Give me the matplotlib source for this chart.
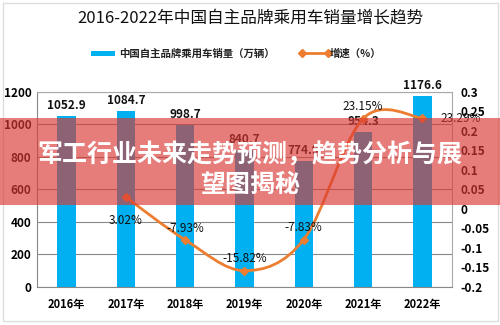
import numpy as np
import matplotlib
matplotlib.use('Agg')
import matplotlib.pyplot as plt
from matplotlib.path import Path
from matplotlib.patches import PathPatch, Rectangle

plt.rcParams['font.family'] = ['Noto Sans CJK SC', 'DejaVu Sans']

years = ['2016年', '2017年', '2018年', '2019年', '2020年', '2021年', '2022年']
sales = [1052.9, 1084.7, 998.7, 840.7, 774.9, 954.3, 1176.6]
growth = [None, 0.0302, -0.0793, -0.1582, -0.0783, 0.2315, 0.2329]
growth_labels = ['', '3.02%', '-7.93%', '-15.82%', '-7.83%', '23.15%', '23.29%']

bar_color = '#00B0F0'
line_color = '#ED7D31'
text_dark = '#111111'

fig = plt.figure(figsize=(5, 3.25), dpi=100)
ax = fig.add_axes([0.074, 0.117, 0.83, 0.6])
ax2 = ax.twinx()

x = np.arange(len(years))
ax.bar(x, sales, width=0.31, color=bar_color, zorder=2)
for xi, v in zip(x, sales):
    ax.text(xi, v + 25, '%.1f' % v, ha='center', va='bottom',
            fontsize=8.5, fontweight='bold', color=text_dark)

ax.set_xlim(-0.5, len(years) - 0.5)
ax.set_ylim(0, 1200)
ax.set_yticks(range(0, 1201, 200))
ax.set_xticks(x)
ax.set_xticklabels(years, fontsize=8, fontweight='bold')
ax.tick_params(axis='y', labelsize=8.5, length=0, pad=4)
ax.tick_params(axis='x', length=0, pad=8)
for lab in ax.get_yticklabels():
    lab.set_fontweight('bold')
ax.grid(axis='y', color='#888888', linewidth=0.8, zorder=0)
ax.set_axisbelow(True)
for s in ['top', 'right']:
    ax.spines[s].set_color('#aaaaaa')
    ax.spines[s].set_linewidth(0.8)
ax.spines['left'].set_color('#888888')
ax.spines['bottom'].set_color('#888888')

# smoothed growth line (Catmull-Rom style bezier through the points)
gx = np.array([xi for xi, g in zip(x, growth) if g is not None], dtype=float)
gy = np.array([g for g in growth if g is not None], dtype=float)
verts = [(gx[0], gy[0])]
codes = [Path.MOVETO]
n = len(gx)
for i in range(n - 1):
    p0 = (gx[i - 1], gy[i - 1]) if i > 0 else (gx[i], gy[i])
    p1 = (gx[i], gy[i])
    p2 = (gx[i + 1], gy[i + 1])
    p3 = (gx[i + 2], gy[i + 2]) if i + 2 < n else p2
    c1 = (p1[0] + (p2[0] - p0[0]) / 6, p1[1] + (p2[1] - p0[1]) / 6)
    c2 = (p2[0] - (p3[0] - p1[0]) / 6, p2[1] - (p3[1] - p1[1]) / 6)
    verts += [c1, c2, p2]
    codes += [Path.CURVE4] * 3
ax2.add_patch(PathPatch(Path(verts, codes), facecolor='none',
                        edgecolor=line_color, linewidth=2, zorder=3))
ax2.plot(gx, gy, linestyle='', marker='D', markersize=4, color=line_color, zorder=4)

offsets = {1: (0, -0.06, 'center'), 2: (0, 0.03, 'center'), 3: (0, 0.03, 'center'),
           4: (0, 0.03, 'center'), 5: (0, 0.03, 'center'), 6: (0.65, -0.002, 'center')}
for i, lab in enumerate(growth_labels):
    if not lab:
        continue
    dx, dy, ha = offsets[i]
    ax2.text(x[i] + dx, growth[i] + dy, lab, ha=ha, va='center',
             fontsize=8.5, color=text_dark)

ax2.set_ylim(-0.2, 0.3)
ax2.set_yticks([-0.2, -0.15, -0.1, -0.05, 0, 0.05, 0.1, 0.15, 0.2, 0.25, 0.3])
ax2.set_yticklabels(['-0.2', '-0.15', '-0.1', '-0.05', '0', '0.05', '0.1',
                     '0.15', '0.2', '0.25', '0.3'], fontsize=8.5, fontweight='bold')
ax2.tick_params(axis='y', length=0, pad=6)
for s in ax2.spines.values():
    s.set_visible(False)

fig.text(0.5, 0.945, '2016-2022年中国自主品牌乘用车销量增长趋势',
         ha='center', va='center', fontsize=12, color='#111111')

# legend
fig.patches.append(Rectangle((0.181, 0.828), 0.048, 0.016, transform=fig.transFigure,
                             facecolor=bar_color, edgecolor='none'))
fig.text(0.238, 0.836, '中国自主品牌乘用车销量（万辆）', ha='left', va='center',
         fontsize=7.5, fontweight='bold', color='#222222')
fig.lines.append(plt.Line2D([0.603, 0.655], [0.836, 0.836], transform=fig.transFigure,
                            color=line_color, linewidth=2, marker='D', markersize=4,
                            markevery=[0, 1]))
fig.text(0.66, 0.836, '增速（%）', ha='left', va='center',
         fontsize=7.5, fontweight='bold', color='#222222')

# outer frame
fig.patches.append(Rectangle((0.005, 0.012), 0.99, 0.98, transform=fig.transFigure,
                             facecolor='none', edgecolor='#dddddd', linewidth=1))

# overlay banner
fig.patches.append(Rectangle((0, 0.369), 1, 0.268, transform=fig.transFigure,
                             facecolor=(0.86, 0.22, 0.2), alpha=0.65,
                             edgecolor='none', zorder=10))
fig.text(0.5, 0.522, '军工行业未来走势预测，趋势分析与展', ha='center', va='center',
         fontsize=18, fontweight='bold', color='white', zorder=11)
fig.text(0.5, 0.43, '望图揭秘', ha='center', va='center',
         fontsize=18, fontweight='bold', color='white', zorder=11)

fig.savefig('out.png', dpi=100)
